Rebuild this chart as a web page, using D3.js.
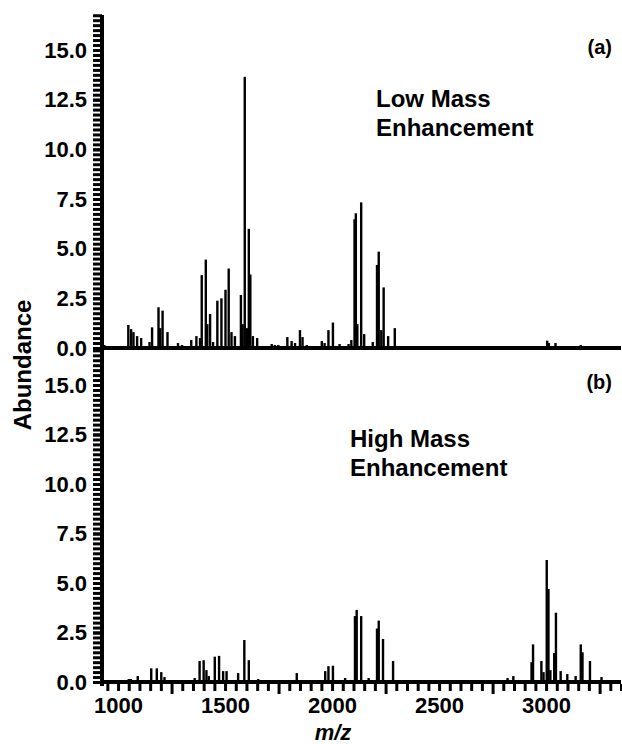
<!DOCTYPE html>
<html>
<head>
<meta charset="utf-8">
<script src="https://cdn.jsdelivr.net/npm/d3@7"></script>
<style>
  body { margin: 0; background: #fff; }
  svg text { font-family: "Liberation Sans", Arial, sans-serif; font-weight: bold; fill: #000; }
</style>
</head>
<body>
<svg id="chart" width="622" height="744"></svg>
<script>
// (a) low mass enhancement: peak m/z and abundance
const lowMz = [936, 1048, 1061, 1072, 1089, 1108, 1147, 1159, 1189, 1197, 1208, 1231, 1280, 1299,
  1342, 1366, 1383, 1391, 1410, 1417, 1430, 1444, 1464, 1483, 1502, 1517, 1530, 1546, 1574, 1582,
  1592, 1602, 1611, 1618, 1630, 1650, 1718, 1733, 1749, 1791, 1811, 1827, 1850, 1862, 1882, 1952,
  1965, 1983, 2004, 2035, 2077, 2090, 2105, 2111, 2118, 2136, 2150, 2190, 2210, 2218, 2230, 2241,
  2262, 2293, 2340, 2374, 2523, 2560, 2593, 2953, 2984, 3005, 3013, 3044, 3162, 3255, 3293];
const lowAbund = [0.15, 1.16, 0.95, 0.8, 0.6, 0.5, 0.3, 1.04, 2.05, 1.0, 1.88, 0.8, 0.25, 0.15,
  0.4, 0.6, 0.5, 3.67, 4.45, 1.2, 1.71, 0.3, 2.38, 2.5, 2.93, 4.0, 0.8, 0.6, 2.67, 1.2,
  13.65, 1.0, 6.0, 3.7, 0.6, 0.5, 0.2, 0.15, 0.15, 0.55, 0.35, 0.25, 0.9, 0.55, 0.15, 0.35,
  0.25, 0.9, 1.28, 0.2, 0.2, 0.4, 6.48, 6.78, 1.2, 7.33, 0.7, 0.3, 4.18, 4.85, 0.9, 3.05,
  0.6, 1.0, 0.1, 0.1, 0.05, 0.05, 0.05, 0.1, 0.1, 0.37, 0.25, 0.25, 0.15, 0.05, 0.05];

// (b) high mass enhancement
const highMz = [1001, 1050, 1060, 1092, 1155, 1181, 1202, 1217, 1311, 1358, 1381, 1400, 1413, 1424,
  1452, 1472, 1491, 1507, 1561, 1590, 1611, 1655, 1718, 1835, 1968, 1983, 2004, 2061, 2107, 2115,
  2136, 2171, 2210, 2218, 2238, 2285, 2343, 2820, 2847, 2932, 2939, 2978, 2988, 3003, 3011, 3020,
  3038, 3046, 3068, 3099, 3138, 3162, 3170, 3205, 3259];
const highAbund = [0.1, 0.15, 0.15, 0.3, 0.69, 0.69, 0.5, 0.25, 0.1, 0.2, 1.06, 1.1, 0.6, 0.3,
  1.28, 1.32, 0.55, 0.55, 0.45, 2.12, 1.1, 0.15, 0.1, 0.45, 0.55, 0.8, 0.82, 0.2, 3.33, 3.64,
  3.33, 0.2, 2.7, 3.1, 2.17, 1.06, 0.1, 0.2, 0.3, 1.0, 1.9, 1.06, 0.5, 6.16, 4.7, 0.6,
  1.46, 3.5, 0.55, 0.4, 0.3, 1.9, 1.5, 1.06, 0.25];

const xLabels = [1000, 1500, 2000, 2500, 3000];
const yLabels = [0, 2.5, 5, 7.5, 10, 12.5, 15];

const svg = d3.select("#chart");

const x = d3.scaleLinear().domain([925, 3350]).range([102, 621]);
const yA = d3.scaleLinear().domain([0, 15]).range([348, 50]);
const yB = d3.scaleLinear().domain([0, 15]).range([682, 385]);

const minorY = d3.range(0, 16.76, 0.25);

function drawPanel(y, mz, abund, tag, lines, textX, textY) {
  const g = svg.append("g");

  // minor ticks every 0.25
  g.append("g")
    .attr("transform", "translate(102,0)")
    .call(d3.axisLeft(y).tickValues(minorY).tickSize(9).tickFormat(""))
    .call(a => a.select(".domain").remove())
    .call(a => a.selectAll("line").attr("stroke-width", 3));

  // labelled ticks
  g.append("g")
    .attr("transform", "translate(102,0)")
    .call(d3.axisLeft(y).tickValues(yLabels).tickSize(9).tickPadding(6).tickFormat(d3.format(".1f")))
    .call(a => a.select(".domain").remove())
    .call(a => a.selectAll("line").attr("stroke-width", 3))
    .call(a => a.selectAll("text").attr("font-size", 22));

  // peaks
  const data = mz.map((m, i) => ({ mz: m, v: abund[i] }));
  g.selectAll("rect.peak")
    .data(data)
    .enter()
    .append("rect")
    .attr("class", "peak")
    .attr("x", d => x(d.mz) - 1.2)
    .attr("width", 2.4)
    .attr("y", d => y(d.v))
    .attr("height", d => y(0) - y(d.v))
    .attr("fill", "#000");

  // baseline
  g.append("line")
    .attr("x1", 102).attr("x2", 621)
    .attr("y1", y(0)).attr("y2", y(0))
    .attr("stroke", "#000").attr("stroke-width", 4);

  g.append("text").attr("x", 612).attr("y", y(15) + 4)
    .attr("text-anchor", "end").attr("font-size", 20).text(tag);
  lines.forEach((t, i) => {
    g.append("text").attr("x", textX).attr("y", textY + i * 29)
      .attr("font-size", 24).text(t);
  });
}

drawPanel(yA, lowMz, lowAbund, "(a)", ["Low Mass", "Enhancement"], 376, 107);
drawPanel(yB, highMz, highAbund, "(b)", ["High Mass", "Enhancement"], 350, 447);

// x axis ticks under panel b
const minorX = d3.range(950, 3351, 50);
const longX = d3.range(1250, 3351, 500);
svg.append("g")
  .attr("transform", "translate(0,684)")
  .call(d3.axisBottom(x).tickValues(minorX.filter(v => !longX.includes(v))).tickSize(7).tickFormat(""))
  .call(a => a.select(".domain").remove())
  .call(a => a.selectAll("line").attr("stroke-width", 3));
svg.append("g")
  .attr("transform", "translate(0,684)")
  .call(d3.axisBottom(x).tickValues(longX).tickSize(10).tickFormat(""))
  .call(a => a.select(".domain").remove())
  .call(a => a.selectAll("line").attr("stroke-width", 3));
svg.append("g")
  .attr("transform", "translate(0,684)")
  .call(d3.axisBottom(x).tickValues(xLabels).tickSize(0).tickPadding(13).tickFormat(d3.format("d")))
  .call(a => a.select(".domain").remove())
  .call(a => a.selectAll("text").attr("font-size", 22));

// y axis spine
svg.append("line")
  .attr("x1", 102).attr("x2", 102)
  .attr("y1", 15).attr("y2", 686)
  .attr("stroke", "#000").attr("stroke-width", 4);

// axis titles
svg.append("text")
  .attr("transform", "translate(31,365) rotate(-90)")
  .attr("text-anchor", "middle").attr("font-size", 24)
  .text("Abundance");
svg.append("text")
  .attr("x", 333).attr("y", 740)
  .attr("text-anchor", "middle").attr("font-size", 22).attr("font-style", "italic")
  .text("m/z");
</script>
</body>
</html>
